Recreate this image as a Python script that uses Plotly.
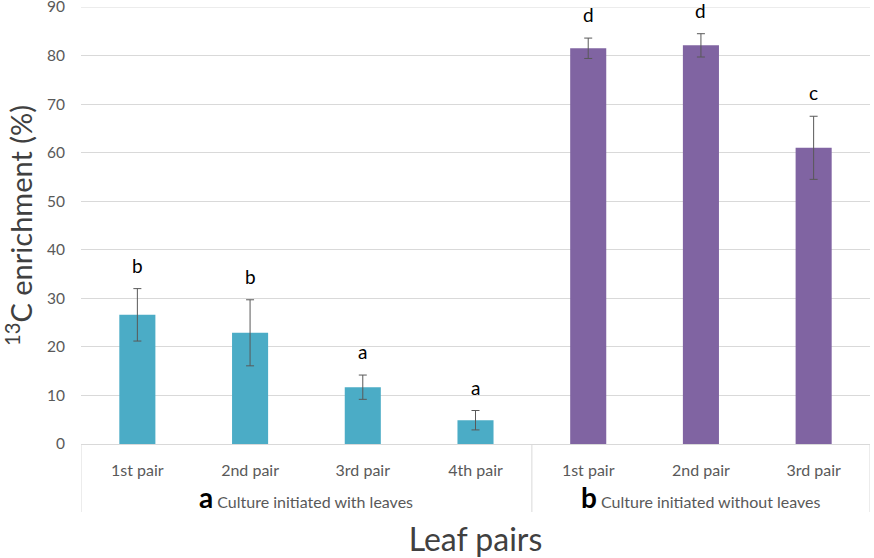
import plotly.graph_objects as go

group_labels = ["Culture initiated with leaves", "Culture initiated without leaves"]
group_letters = ["a", "b"]
group_sizes = [4, 3]
pairs = ["1st pair", "2nd pair", "3rd pair", "4th pair", "1st pair", "2nd pair", "3rd pair"]
means = [26.6, 22.9, 11.7, 4.9, 81.5, 82.1, 61.0]
errors = [5.4, 6.8, 2.5, 2.0, 2.1, 2.4, 6.5]
letters = ["b", "b", "a", "a", "d", "d", "c"]
colors = ["#4BACC6"] * 4 + ["#8064A2"] * 3

FONT = "Lato"
xpos = list(range(len(pairs)))
PLOT_H = 437.0

fig = go.Figure()
fig.add_trace(go.Bar(
    x=xpos, y=means,
    marker=dict(color=colors, line=dict(width=0)),
    width=0.32,
    error_y=dict(type="data", array=errors, visible=True, color="#595959", thickness=1, width=4),
    showlegend=False,
))

for i, (m, e, l) in enumerate(zip(means, errors, letters)):
    fig.add_annotation(x=i, y=m + e, xref="x", yref="y", text=l, showarrow=False,
                       yanchor="bottom", yshift=10, font=dict(family=FONT, size=19, color="#000000"))

# group labels and dividers
start = 0
box_bottom = -(512 - 444) / PLOT_H
fig.add_shape(type="line", xref="x", yref="paper", x0=-0.5, x1=-0.5, y0=0, y1=box_bottom,
              line=dict(color="#D9D9D9", width=1))
for gl, gletter, n in zip(group_labels, group_letters, group_sizes):
    center = start + (n - 1) / 2
    fig.add_annotation(x=center, y=-(497 - 444) / PLOT_H, xref="x", yref="paper", showarrow=False,
                       yanchor="middle",
                       text=f"<span style='font-size:28px;color:#000000'><b>{gletter}</b></span> {gl}",
                       font=dict(family=FONT, size=16, color="#595959"))
    end = start + n - 0.5
    fig.add_shape(type="line", xref="x", yref="paper", x0=end, x1=end, y0=0, y1=box_bottom,
                  line=dict(color="#D9D9D9", width=1))
    start += n

# top gridline (at 90)
fig.add_shape(type="line", xref="paper", yref="y", x0=0, x1=1, y0=90, y1=90,
              line=dict(color="#D9D9D9", width=1))

fig.update_layout(
    width=874, height=558,
    margin=dict(l=81, r=4, t=7, b=114),
    plot_bgcolor="white", paper_bgcolor="white",
    font=dict(family=FONT, color="#595959"),
)
fig.update_yaxes(
    range=[0, 90], dtick=10, showgrid=True, gridcolor="#D9D9D9", gridwidth=1,
    zeroline=False, showline=False, ticks="", automargin=False, ticklabeloverflow="allow",
    tickfont=dict(size=15.5, color="#595959", family=FONT), ticklabelstandoff=15,
    title=dict(text="<sup>13</sup>C enrichment (%)", font=dict(size=29, color="#404040", family=FONT), standoff=10),
)
fig.update_xaxes(
    range=[-0.5, 6.5], tickvals=xpos, ticktext=pairs, automargin=False,
    showline=True, linecolor="#D9D9D9", linewidth=1, showgrid=False, zeroline=False,
    ticks="", tickfont=dict(size=16, color="#595959", family=FONT), ticklabelstandoff=12,
    title=dict(text="Leaf pairs", font=dict(size=32, color="#404040", family=FONT), standoff=50),
)

fig.write_html("out.html", config={"displayModeBar": False},
               post_script="document.body.style.margin='0';")
